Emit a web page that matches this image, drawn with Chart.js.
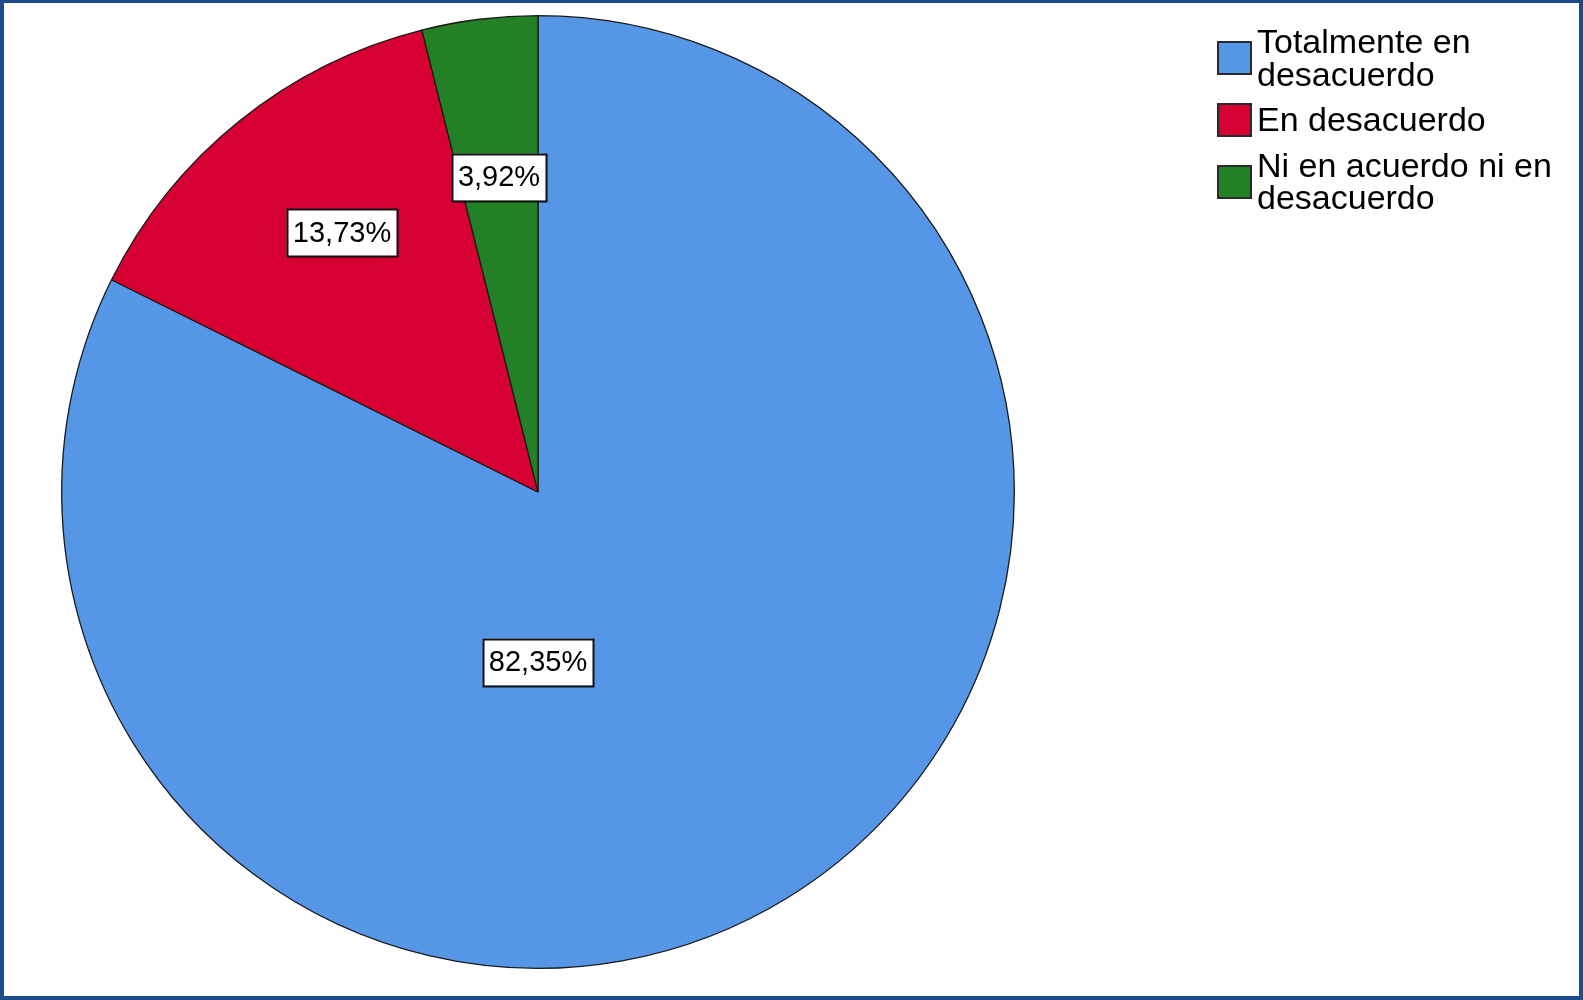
<!DOCTYPE html>
<html lang="es">
<head>
<meta charset="utf-8">
<title>Gráfico circular</title>
<script src="https://cdn.jsdelivr.net/npm/chart.js"></script>
<style>
    html, body { margin: 0; padding: 0; background: #ffffff; }
    .wrap { position: relative; width: 1583px; height: 1000px; }
    .wrap canvas { position: absolute; left: 0; top: 0; }
    .frame {
        position: absolute; left: 0; top: 0; right: 0; bottom: 0;
        border: 4px solid #1d4c8a; border-top-width: 3px;
        pointer-events: none;
    }
</style>
</head>
<body>
<div class="wrap">
    <canvas id="pieChart" width="1583" height="1000"></canvas>
    <div class="frame"></div>
</div>
<script>
// Datos del gráfico
const categories = ['Totalmente en desacuerdo', 'En desacuerdo', 'Ni en acuerdo ni en desacuerdo'];
const percentages = [82.35, 13.73, 3.92];
const sliceColors = ['#5596e6', '#d60032', '#238024'];

const FONT = '"Liberation Sans", Arial, sans-serif';

// where each boxed label sits: angle override / extra turn (rad) and fraction of the radius
const labelPlacement = [
    { angle: Math.PI / 2, turn: 0, radius: 0.357 },
    { angle: null, turn: 0.03, radius: 0.682 },
    { angle: null, turn: 0, radius: 0.666 }
];

function formatPct(v) {
    return v.toFixed(2).replace('.', ',') + '%';
}

// White boxed percentage labels inside the slices
const boxLabels = {
    id: 'boxLabels',
    afterDatasetsDraw(chart, args, opts) {
        const ctx = chart.ctx;
        const meta = chart.getDatasetMeta(0);
        const values = chart.data.datasets[0].data;
        ctx.save();
        ctx.font = opts.fontSize + 'px ' + FONT;
        ctx.textAlign = 'center';
        ctx.textBaseline = 'middle';
        meta.data.forEach((arc, i) => {
            const p = arc.getProps(['x', 'y', 'startAngle', 'endAngle', 'outerRadius'], true);
            const place = labelPlacement[i];
            let angle = place.angle !== null ? place.angle : (p.startAngle + p.endAngle) / 2;
            angle += place.turn;
            const r = p.outerRadius * place.radius;
            const cx = p.x + Math.cos(angle) * r;
            const cy = p.y + Math.sin(angle) * r;
            const text = formatPct(values[i]);
            const w = ctx.measureText(text).width + opts.padX * 2;
            const h = opts.boxHeight;
            ctx.fillStyle = '#ffffff';
            ctx.fillRect(cx - w / 2, cy - h / 2, w, h);
            ctx.lineWidth = 2;
            ctx.strokeStyle = '#111111';
            ctx.strokeRect(Math.round(cx - w / 2) + 0.5, Math.round(cy - h / 2) + 0.5, Math.round(w), h);
            ctx.fillStyle = '#000000';
            ctx.fillText(text, cx, cy + 1);
        });
        ctx.restore();
    }
};

// Legend on the right with wrapped labels
const sideLegend = {
    id: 'sideLegend',
    afterDraw(chart, args, opts) {
        const ctx = chart.ctx;
        const ds = chart.data.datasets[0];
        ctx.save();
        ctx.font = opts.fontSize + 'px ' + FONT;
        ctx.textAlign = 'left';
        ctx.textBaseline = 'alphabetic';
        let baseline = opts.top;
        chart.data.labels.forEach((label, i) => {
            // wrap words
            const words = label.split(' ');
            const lines = [];
            let cur = '';
            words.forEach(wd => {
                const test = cur ? cur + ' ' + wd : wd;
                if (cur && ctx.measureText(test).width > opts.maxWidth) {
                    lines.push(cur);
                    cur = wd;
                } else {
                    cur = test;
                }
            });
            lines.push(cur);

            const firstBase = baseline;
            const lastBase = baseline + (lines.length - 1) * opts.lineHeight;
            const mid = (firstBase - opts.capHeight + lastBase) / 2;
            const bx = opts.boxX, bw = opts.boxW, bh = opts.boxH;
            const by = Math.round(mid - bh / 2) + 1;
            ctx.fillStyle = ds.backgroundColor[i];
            ctx.fillRect(bx, by, bw, bh);
            ctx.lineWidth = 2;
            ctx.strokeStyle = '#2a2a2a';
            ctx.strokeRect(bx + 1, by + 1, bw - 2, bh - 2);

            ctx.fillStyle = '#000000';
            lines.forEach((ln, k) => {
                ctx.fillText(ln, opts.textX, baseline + k * opts.lineHeight);
            });
            baseline = lastBase + opts.lineHeight + opts.entryGap;
        });
        ctx.restore();
    }
};

new Chart(document.getElementById('pieChart'), {
    type: 'pie',
    data: {
        labels: categories,
        datasets: [{
            data: percentages,
            backgroundColor: sliceColors,
            borderColor: '#1a1a1a',
            borderWidth: 1.3
        }]
    },
    options: {
        responsive: false,
        animation: false,
        devicePixelRatio: 1,
        layout: {
            padding: { left: 61, right: 568, top: 15, bottom: 31 }
        },
        plugins: {
            legend: { display: false },
            tooltip: { enabled: false },
            boxLabels: {
                fontSize: 29,
                padX: 6,
                boxHeight: 47
            },
            sideLegend: {
                fontSize: 34,
                top: 53,
                lineHeight: 32.5,
                entryGap: 13,
                capHeight: 24,
                maxWidth: 310,
                textX: 1257,
                boxX: 1217,
                boxW: 35,
                boxH: 34
            }
        }
    },
    plugins: [boxLabels, sideLegend]
});
</script>
</body>
</html>
